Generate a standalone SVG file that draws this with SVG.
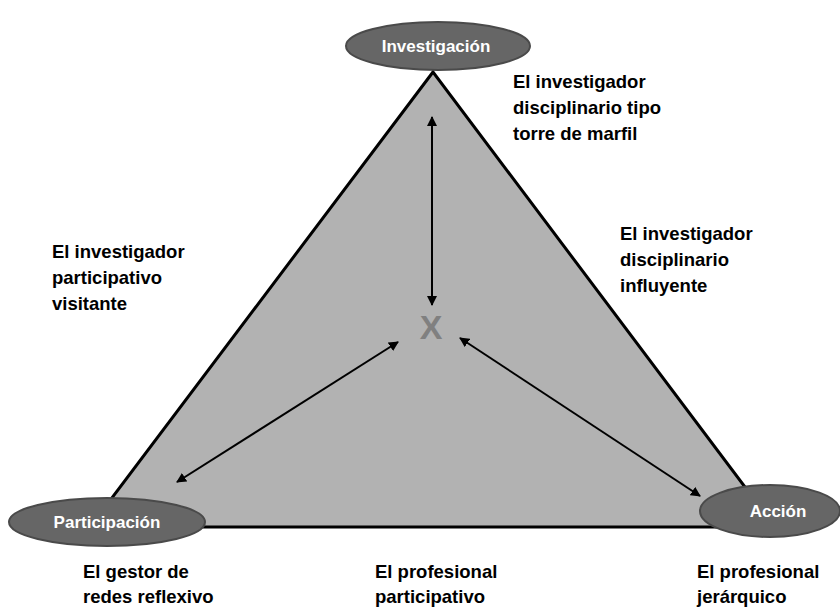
<svg xmlns="http://www.w3.org/2000/svg" width="840" height="608" viewBox="0 0 840 608">
<defs>
<marker id="ah" viewBox="0 0 10 10" refX="9" refY="5" markerWidth="5" markerHeight="5" orient="auto-start-reverse">
<path d="M0,0 L10,5 L0,10 z" fill="#000"/>
</marker>
<style>
.lbl{font-family:"Liberation Sans",Arial,sans-serif;font-weight:bold;font-size:18.5px;fill:#000}
.node{fill:#666;stroke:#4a4a4a;stroke-width:2}
.ntxt{font-family:"Liberation Sans",Arial,sans-serif;font-weight:bold;font-size:17px;fill:#fff;text-anchor:middle}
.conn{stroke:#000;stroke-width:2;fill:none;marker-start:url(#ah);marker-end:url(#ah)}
</style>
</defs>
<rect width="840" height="608" fill="#fff"/>
<g id="triangle">
<polygon points="433,72 90,527 775,527" fill="#b2b2b2" stroke="#000" stroke-width="3" stroke-linejoin="miter"/>
</g>
<g id="connectors">
<line class="conn" x1="432" y1="117" x2="432" y2="305"/>
<line class="conn" x1="398" y1="342" x2="177" y2="482"/>
<line class="conn" x1="460" y1="338" x2="700" y2="496"/>
</g>
<g id="center">
<text x="431" y="339" font-family="Liberation Sans,Arial,sans-serif" font-weight="bold" font-size="34" fill="#808080" text-anchor="middle">X</text>
</g>
<g id="investigacion">
<ellipse class="node" cx="438" cy="46" rx="92" ry="24"/>
<text class="ntxt" x="436" y="52">Investigación</text>
</g>
<g id="participacion">
<ellipse class="node" cx="107" cy="522" rx="98" ry="24"/>
<text class="ntxt" x="107" y="528">Participación</text>
</g>
<g id="accion">
<ellipse class="node" cx="770" cy="511" rx="70" ry="26"/>
<text class="ntxt" x="778" y="517">Acción</text>
</g>
<g id="labels">
<text class="lbl" x="513" y="88">El investigador</text>
<text class="lbl" x="513" y="114">disciplinario tipo</text>
<text class="lbl" x="513" y="140">torre de marfil</text>
<text class="lbl" x="52" y="258">El investigador</text>
<text class="lbl" x="52" y="284">participativo</text>
<text class="lbl" x="52" y="310">visitante</text>
<text class="lbl" x="620" y="240">El investigador</text>
<text class="lbl" x="620" y="266">disciplinario</text>
<text class="lbl" x="620" y="292">influyente</text>
<text class="lbl" x="83" y="578">El gestor de</text>
<text class="lbl" x="83" y="603">redes reflexivo</text>
<text class="lbl" x="375" y="578">El profesional</text>
<text class="lbl" x="375" y="603">participativo</text>
<text class="lbl" x="697" y="578">El profesional</text>
<text class="lbl" x="697" y="603">jerárquico</text>
</g>
</svg>
